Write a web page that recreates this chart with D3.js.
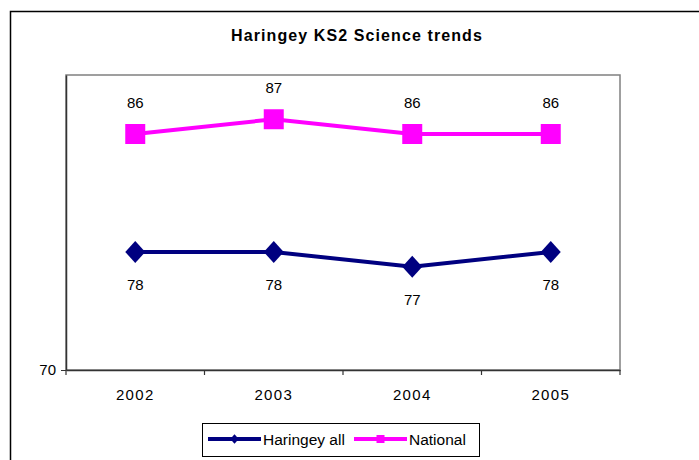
<!DOCTYPE html>
<html>
<head>
<meta charset="utf-8">
<script src="https://cdn.jsdelivr.net/npm/d3@7"></script>
<style>
  body { margin: 0; background: #fff; }
  text { font-family: "Liberation Sans", Arial, sans-serif; fill: #000; }
</style>
</head>
<body>
<div id="chart"></div>
<script>
const years = ['2002', '2003', '2004', '2005'];
const haringey = [78, 78, 77, 78];
const national = [86, 87, 86, 86];
const yTicks = [70];

const w = 699;
const h = 460;
const plot = { left: 66, top: 75, right: 620, bottom: 370 };

const svg = d3.select('#chart')
  .append('svg')
  .attr('width', w)
  .attr('height', h);

// outer chart border (runs off the right and bottom)
svg.append('rect')
  .attr('x', 10.5).attr('y', 11.5)
  .attr('width', 720).attr('height', 480)
  .attr('fill', 'none')
  .attr('stroke', '#000')
  .attr('stroke-width', 1.5);

svg.append('text')
  .attr('x', 357).attr('y', 41)
  .attr('text-anchor', 'middle')
  .attr('font-size', 16)
  .attr('font-weight', 'bold')
  .attr('letter-spacing', 1.1)
  .text('Haringey KS2 Science trends');

const xScale = d3.scaleBand()
  .domain(years)
  .range([plot.left, plot.right]);

const yScale = d3.scaleLinear()
  .domain([70, 90])
  .range([plot.bottom, plot.top]);

// plot area frame
svg.append('rect')
  .attr('x', plot.left).attr('y', plot.top)
  .attr('width', plot.right - plot.left)
  .attr('height', plot.bottom - plot.top)
  .attr('fill', 'none')
  .attr('stroke', '#808080')
  .attr('stroke-width', 1.5);

// x axis
const xAxis = svg.append('g')
  .attr('transform', `translate(0, ${plot.bottom})`)
  .call(d3.axisBottom(xScale).tickSize(0).tickPadding(19));
xAxis.select('.domain').attr('stroke', '#333').attr('stroke-width', 1.5);
xAxis.selectAll('text')
  .attr('font-size', 15)
  .attr('letter-spacing', 1.3)
  .style('font-family', '"Liberation Sans", Arial, sans-serif');
svg.append('g')
  .selectAll('line')
  .data(d3.range(years.length + 1))
  .enter()
  .append('line')
  .attr('x1', i => plot.left + i * xScale.step())
  .attr('x2', i => plot.left + i * xScale.step())
  .attr('y1', plot.bottom)
  .attr('y2', plot.bottom + 5)
  .attr('stroke', '#333')
  .attr('stroke-width', 1.2);

// y axis
const yAxis = svg.append('g')
  .attr('transform', `translate(${plot.left}, 0)`)
  .call(d3.axisLeft(yScale).tickValues(yTicks).tickSizeInner(5).tickSizeOuter(0).tickPadding(5));
yAxis.select('.domain').attr('stroke', '#333').attr('stroke-width', 1.5);
yAxis.selectAll('line').attr('stroke', '#333');
yAxis.selectAll('text')
  .attr('font-size', 15)
  .style('font-family', '"Liberation Sans", Arial, sans-serif');

const cx = d => xScale(d) + xScale.bandwidth() / 2;

const line = d3.line()
  .x(d => cx(d.year))
  .y(d => yScale(d.value));

// diamonds are squares turned 45 degrees and stretched a little upward
const series = [
  { name: 'Haringey all', values: haringey, color: '#000080', size: 200, turn: ' scale(1, 1.1) rotate(45)', labelDy: 38, legendSize: 36 },
  { name: 'National', values: national, color: '#FF00FF', size: 400, turn: '', labelDy: -26, legendSize: 64 }
];

series.forEach(s => {
  const pts = years.map((y, i) => ({ year: y, value: s.values[i] }));

  svg.append('path')
    .datum(pts)
    .attr('d', line)
    .attr('fill', 'none')
    .attr('stroke', s.color)
    .attr('stroke-width', 4);

  svg.append('g')
    .selectAll('path')
    .data(pts)
    .enter()
    .append('path')
    .attr('d', d3.symbol().type(d3.symbolSquare).size(s.size))
    .attr('transform', d => `translate(${cx(d.year)}, ${yScale(d.value)})${s.turn}`)
    .attr('fill', s.color);

  svg.append('g')
    .selectAll('text')
    .data(pts)
    .enter()
    .append('text')
    .attr('x', d => cx(d.year))
    .attr('y', d => yScale(d.value) + s.labelDy)
    .attr('text-anchor', 'middle')
    .attr('font-size', 15)
    .text(d => d.value);
});

// legend
const legend = svg.append('g');
legend.append('rect')
  .attr('x', 202.5).attr('y', 423.5)
  .attr('width', 277).attr('height', 33)
  .attr('fill', '#fff')
  .attr('stroke', '#000')
  .attr('stroke-width', 1);

const legendItems = [
  { s: series[0], x: 208 },
  { s: series[1], x: 354 }
];
legendItems.forEach(item => {
  const ly = 439;
  legend.append('line')
    .attr('x1', item.x).attr('x2', item.x + 53)
    .attr('y1', ly).attr('y2', ly)
    .attr('stroke', item.s.color)
    .attr('stroke-width', 4);
  legend.append('path')
    .attr('d', d3.symbol().type(d3.symbolSquare).size(item.s.legendSize))
    .attr('transform', `translate(${item.x + 26.5}, ${ly})${item.s.turn}`)
    .attr('fill', item.s.color);
  legend.append('text')
    .attr('x', item.x + 55)
    .attr('y', ly + 5.5)
    .attr('font-size', 15.5)
    .text(item.s.name);
});
</script>
</body>
</html>
